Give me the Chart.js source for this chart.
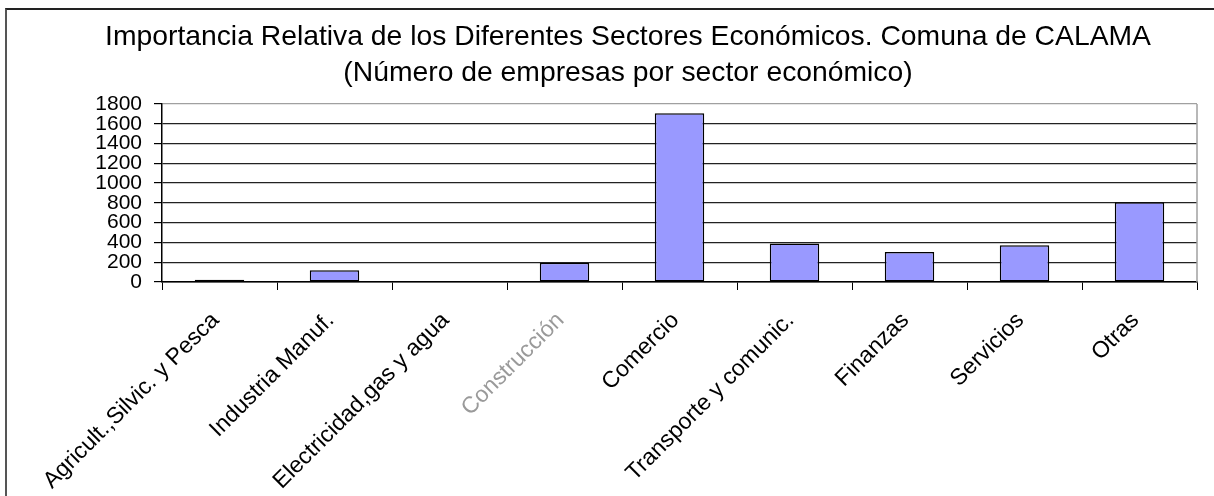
<!DOCTYPE html>
<html>
<head>
<meta charset="utf-8">
<script src="https://cdn.jsdelivr.net/npm/chart.js@4/dist/chart.umd.min.js"></script>
<style>
    html, body { margin: 0; padding: 0; background: #fff; overflow: hidden; }
    #frame {
        position: absolute; left: 5px; top: 8px; width: 1400px; height: 700px;
        border-left: 2px solid #555; border-top: 2px solid #222;
    }
    #wrap { position: absolute; left: 0; top: 0; width: 1214px; height: 496px; }
</style>
</head>
<body>
<div id="frame"></div>
<div id="wrap"><canvas id="bar-sectores"></canvas></div>
<script>
// Empresas por sector económico, comuna de Calama
var sectores = [
    "Agricult.,Silvic. y Pesca",
    "Industria Manuf.",
    "Electricidad,gas y agua",
    "Construcción",
    "Comercio",
    "Transporte y comunic.",
    "Finanzas",
    "Servicios",
    "Otras"
];
var empresas = [22, 118, 0, 195, 1705, 388, 303, 372, 805];
var yTicks = [0, 200, 400, 600, 800, 1000, 1200, 1400, 1600, 1800];

var titulo = [
    "Importancia Relativa de los Diferentes Sectores Económicos. Comuna de CALAMA",
    "(Número de empresas por sector económico)"
];

var fuente = "'Liberation Sans', Arial, sans-serif";

// Borde gris a la derecha del área de trazado
var bordeDerecho = {
    id: "bordeDerecho",
    afterDraw: function (chart) {
        var a = chart.chartArea;
        var ctx = chart.ctx;
        ctx.save();
        ctx.strokeStyle = "#a0a0a0";
        ctx.lineWidth = 1.5;
        ctx.beginPath();
        ctx.moveTo(a.right, a.top);
        ctx.lineTo(a.right, a.bottom);
        ctx.stroke();
        ctx.restore();
    }
};

new Chart(document.getElementById("bar-sectores"), {
    type: "bar",
    data: {
        labels: sectores,
        datasets: [
            {
                data: empresas,
                backgroundColor: "#9999FF",
                borderColor: "#000000",
                borderWidth: 1.5,
                borderSkipped: false,
                barPercentage: 0.43,
                categoryPercentage: 1
            }
        ]
    },
    options: {
        responsive: true,
        maintainAspectRatio: false,
        animation: false,
        layout: { padding: { left: 59, right: 17, top: 0, bottom: 0 } },
        plugins: {
            legend: { display: false },
            tooltip: { enabled: false },
            title: {
                display: true,
                text: titulo,
                color: "#000",
                font: { family: fuente, size: 28.3, weight: "normal", lineHeight: 1.28 },
                padding: { top: 19, bottom: 12.5 }
            }
        },
        scales: {
            x: {
                offset: true,
                afterFit: function (scale) { scale.height = 214; },
                grid: {
                    display: true,
                    drawOnChartArea: false,
                    offset: true,
                    tickLength: 8,
                    tickColor: "#000"
                },
                border: { color: "#000", width: 1.5 },
                ticks: {
                    autoSkip: false,
                    minRotation: 45,
                    maxRotation: 45,
                    padding: 17,
                    labelOffset: -4,
                    color: function (c) { return c.index === 3 ? "#9a9a9a" : "#000"; },
                    font: { family: fuente, size: 23 }
                }
            },
            y: {
                min: 0,
                max: 1800,
                afterFit: function (scale) { scale.width = 103; },
                afterBuildTicks: function (scale) {
                    scale.ticks = yTicks.map(function (v) { return { value: v }; });
                },
                grid: {
                    color: function (c) { return c.tick && c.tick.value === 1800 ? "#a0a0a0" : "#222"; },
                    lineWidth: 1.2,
                    tickLength: 8,
                    tickColor: "#000"
                },
                border: { color: "#000", width: 1.5 },
                ticks: {
                    autoSkip: false,
                    padding: 12,
                    color: "#000",
                    font: { family: fuente, size: 21, lineHeight: 1 },
                    callback: function (value) { return String(value); }
                }
            }
        }
    },
    plugins: [bordeDerecho]
});
</script>
</body>
</html>
